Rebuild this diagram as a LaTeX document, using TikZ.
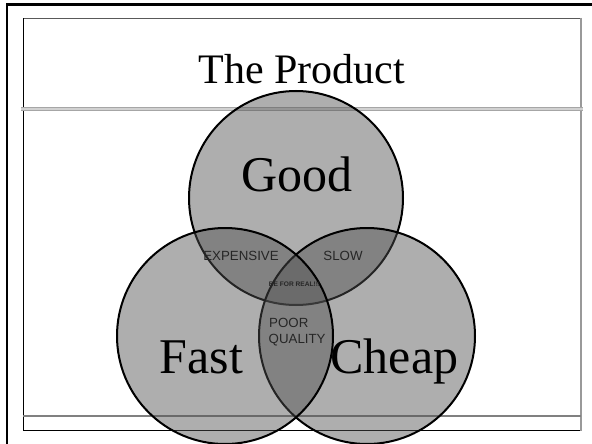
\documentclass[tikz,border=0pt]{standalone}
\usepackage{fontspec}
\setmainfont{Liberation Serif}
\setsansfont{Liberation Sans}
\begin{document}
\begin{tikzpicture}[x=1pt,y=-1pt,
  vcircle/.style={draw=black,line width=2pt,fill={rgb,255:red,80;green,80;blue,80},fill opacity=0.457},
  bigword/.style={font=\fontsize{50}{50}\selectfont,anchor=base,inner sep=0pt},
  smallword/.style={font=\sffamily\fontsize{13.3}{14}\selectfont,text=black!85,anchor=base,inner sep=0pt},
]
\useasboundingbox (0,0) rectangle (592,444);
\clip (0,0) rectangle (592,444);
\fill[white] (0,0) rectangle (592,444);
% outer frame
\draw[line width=2.6pt] (7,4.5) rectangle (620,470);
% inner box
\draw[line width=0.8pt,draw=black!65] (23,18.5) -- (581,18.5);
\draw[line width=0.9pt] (23,18.5) -- (23,430) -- (581,430);
\draw[line width=1.6pt,draw=black!40] (581,18) -- (581,431);
% gray double band under title
\draw[line width=4pt,draw=black!35] (21,109) -- (583,109);
\draw[line width=2pt,draw=black!18] (21,109) -- (583,109);
% bottom gray line
\draw[line width=1.4pt,draw=black!50] (23,416) -- (581,416);
% title
\node[font=\fontsize{42}{42}\selectfont,anchor=base,inner sep=0pt] (title) at (302,84) {The Product};
% circles: Good, Cheap, Fast
\node[vcircle,circle,minimum size=214pt,inner sep=0pt] (good) at (296,198) {};
\node[vcircle,circle,minimum size=216pt,inner sep=0pt] (cheap) at (367,336) {};
\node[vcircle,circle,minimum size=216pt,inner sep=0pt] (fast) at (225,336) {};
% words
\node[bigword] (goodt) at (297,191) {Good};
\node[bigword] (fastt) at (201.5,373) {Fast};
\node[bigword] (cheapt) at (394.5,373) {Cheap};
\node[smallword] (exp) at (241,260) {EXPENSIVE};
\node[smallword] (slow) at (343,260) {SLOW};
\node[font=\sffamily\bfseries\fontsize{6.6}{7}\selectfont,text=black!85,anchor=base,inner sep=0pt] (real) at (294.5,286) {BE FOR REAL!!!};
\node[smallword,anchor=base west] (poor) at (269,327.5) {POOR};
\node[smallword,anchor=base west] (qual) at (268.5,343.5) {QUALITY};
\end{tikzpicture}
\end{document}
